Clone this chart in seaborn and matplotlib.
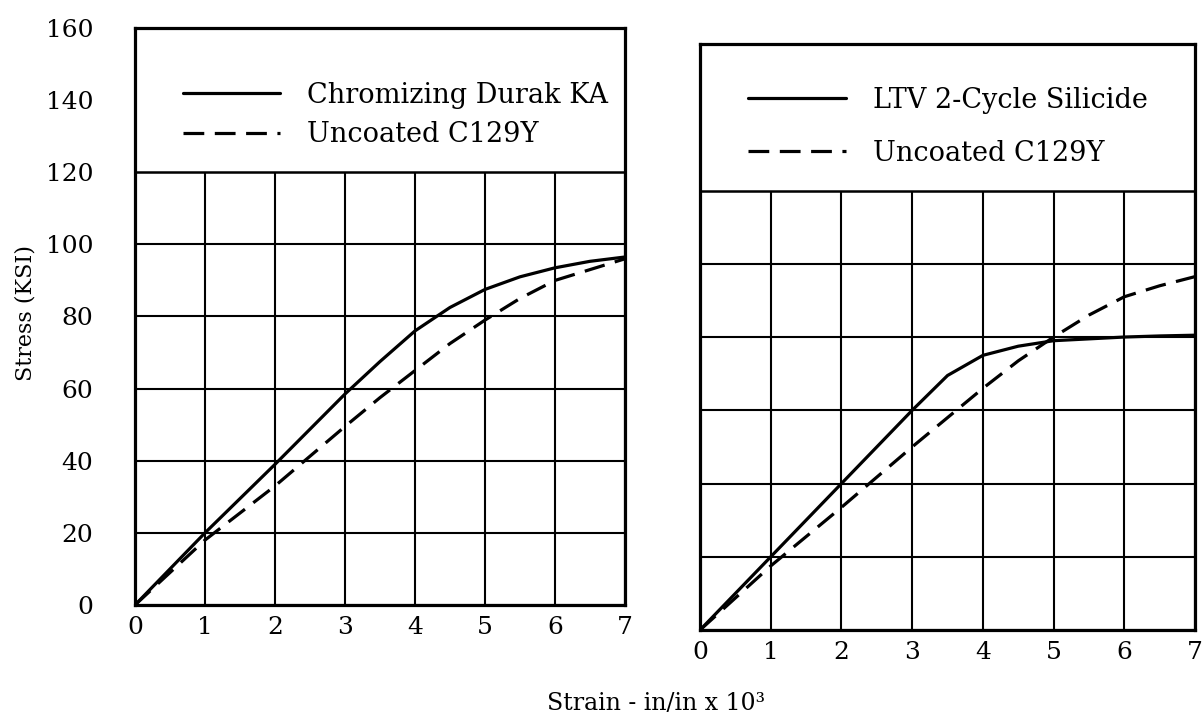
import numpy as np
import pandas as pd
import seaborn as sns
import matplotlib.pyplot as plt
from matplotlib.patches import Rectangle

# values (strain in in/in x 10^3, stress in KSI)
strain_pts = [0, 1, 2, 3, 3.5, 4, 4.5, 5, 5.5, 6, 6.5, 7]
chromizing = [0, 20, 39, 58.5, 67.5, 76, 82.5, 87.5, 91, 93.5, 95.3, 96.5]
uncoated_left = [0, 18, 33, 49.5, 57.5, 65, 72.5, 79, 85, 90, 93, 96]
ltv_silicide = [0, 20, 40, 60, 69.5, 75, 77.5, 79, 79.5, 80, 80.3, 80.5]
uncoated_right = [0, 17.5, 33.5, 50, 58, 66, 73.5, 80, 86, 91, 94, 96.5]

x_ticks = [0, 1, 2, 3, 4, 5, 6, 7]
y_ticks = [0, 20, 40, 60, 80, 100, 120, 140, 160]

left_labels = ["Chromizing Durak KA", "Uncoated C129Y"]
right_labels = ["LTV 2-Cycle Silicide", "Uncoated C129Y"]

sns.set_style("white", rc={"text.color": "black", "xtick.color": "black",
                           "ytick.color": "black", "axes.labelcolor": "black"})
plt.rcParams["font.family"] = ["DejaVu Serif", "DejaVu Sans"]

fig = plt.figure(figsize=(12.03, 7.27), dpi=100)
ax_l = fig.add_axes([0.1122, 0.1678, 0.4073, 0.7937])
ax_r = fig.add_axes([0.5819, 0.1334, 0.4115, 0.8060])

dash_style = (0, (6.5, 3.3))


def draw_panel(ax, solid_vals, dashed_vals, labels, leg_anchor, leg_spacing):
    sns.lineplot(x=strain_pts, y=solid_vals, ax=ax, color="black",
                 linewidth=2.3, zorder=3)
    sns.lineplot(x=strain_pts, y=dashed_vals, ax=ax, color="black",
                 linewidth=2.3, linestyle=dash_style, zorder=3)
    ax.set_xlim(0, 7)
    ax.set_ylim(0, 160)
    ax.set_xticks(x_ticks)
    ax.set_yticks(y_ticks)
    ax.set_axisbelow(True)
    ax.grid(True, color="black", linewidth=1.5)
    # white legend box over the top of the grid
    ax.add_patch(Rectangle((0, 120), 7, 40, facecolor="white",
                           edgecolor="none", zorder=1))
    ax.axhline(120, color="black", linewidth=1.8, zorder=1.5)
    for sp in ax.spines.values():
        sp.set_color("black")
        sp.set_linewidth(2.3)
    ax.tick_params(length=0, labelsize=18)
    ax.set_xlabel("")
    ax.set_ylabel("")
    ax.legend(handles=ax.lines[:2], labels=labels, loc="upper left",
              bbox_to_anchor=leg_anchor, frameon=False, fontsize=19.5,
              handlelength=3.6, handletextpad=1.0, borderpad=0,
              labelspacing=leg_spacing)


draw_panel(ax_l, chromizing, uncoated_left, left_labels, (0.07, 0.93), 0.45)
draw_panel(ax_r, ltv_silicide, uncoated_right, right_labels, (0.07, 0.95), 0.95)

ax_l.tick_params(axis="y", pad=30)
ax_l.tick_params(axis="x", pad=8)
ax_r.tick_params(axis="x", pad=8)
ax_r.tick_params(axis="y", labelleft=False)

fig.text(0.021, 0.57, "Stress (KSI)", rotation=90, ha="center", va="center",
         fontsize=16)
fig.text(0.545, 0.032, "Strain - in/in x 10³", ha="center", va="center",
         fontsize=17)

fig.savefig("out.png", dpi=100)
